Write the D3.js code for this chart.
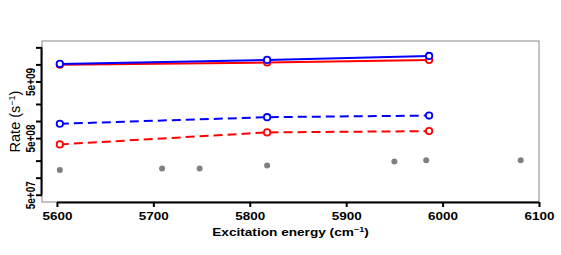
<!DOCTYPE html>
<html>
<head>
<meta charset="utf-8">
<script src="https://cdn.jsdelivr.net/npm/d3@7"></script>
<style>
  body { margin: 0; background: #fff; }
  text { font-family: "Liberation Sans", Arial, sans-serif; }
</style>
</head>
<body>
<script>
// main series
let energies = [5603, 5818, 5986];
let blueSolid = [1.02e10, 1.2e10, 1.41e10];
let redSolid = [9.9e9, 1.08e10, 1.2e10];
let blueDashed = [8.95e8, 1.17e9, 1.25e9];
let redDashed = [3.87e8, 6.3e8, 6.64e8];

// gray points
let grayEnergies = [5603, 5709, 5748, 5818, 5950, 5983, 6081];
let grayRates = [1.36e8, 1.45e8, 1.45e8, 1.64e8, 1.93e8, 2.03e8, 2.03e8];

let xTicks = [5600, 5700, 5800, 5900, 6000, 6100];
let yTicks = [5e7, 1e8, 2e8, 5e8, 1e9, 2e9, 5e9, 1e10, 2e10];
let yLabels = ["5e+07", "5e+08", "5e+09"];

let W = 561, H = 255;
let margin = { top: 41, right: 22, bottom: 53, left: 42 };
let width = W - margin.left - margin.right,
    height = H - margin.top - margin.bottom;

let svg = d3.select("body").append("svg")
  .attr("width", W)
  .attr("height", H)
  .append("g")
  .attr("transform", "translate(" + margin.left + "," + margin.top + ")");

let x = d3.scaleLinear().domain([5584.5, 6100]).range([0, width]);
let y = d3.scaleLog().domain([3.72e7, 2.59e10]).range([height, 0]);

// plot box
svg.append("rect")
  .attr("x", 0).attr("y", 0)
  .attr("width", width).attr("height", height)
  .attr("fill", "none")
  .attr("stroke", "#888")
  .attr("stroke-width", 1);

// x axis
let xaxis = svg.append("g")
  .attr("transform", "translate(0," + height + ")")
  .call(d3.axisBottom(x).tickValues(xTicks).tickSize(5).tickSizeOuter(0).tickFormat(d3.format("d")));
xaxis.select(".domain")
  .attr("d", "M" + x(5600) + ",0.5H" + x(6100))
  .attr("stroke", "#000").attr("stroke-width", 2);
xaxis.selectAll(".tick line").attr("stroke-width", 2);
xaxis.selectAll("text")
  .attr("y", 18).attr("dy", 0)
  .attr("transform", "scale(1.35,1)")
  .style("font-size", "10px")
  .style("font-weight", "bold")
  .attr("fill", "#000");

// y axis
let yaxis = svg.append("g")
  .call(d3.axisLeft(y).tickValues(yTicks).tickSize(6).tickSizeOuter(0)
    .tickFormat(function(d) { let s = d3.format(".0e")(d).replace("e+", "e+0"); return yLabels.indexOf(s) >= 0 ? s : ""; }));
yaxis.select(".domain")
  .attr("d", "M-0.5," + y(2e10) + "V" + y(5e7))
  .attr("stroke", "#000").attr("stroke-width", 2);
yaxis.selectAll(".tick line").attr("stroke-width", 2);
yaxis.selectAll("text")
  .attr("x", 0).attr("dy", 0)
  .attr("transform", "translate(-7,0) scale(1.25,1) rotate(-90)")
  .attr("text-anchor", "middle")
  .style("font-size", "10px")
  .style("font-weight", "bold")
  .attr("fill", "#000");

// lines
let line = d3.line()
  .x(function(d) { return x(d[0]); })
  .y(function(d) { return y(d[1]); });

let series = [
  { vals: redDashed, color: "red", dash: "9,5" },
  { vals: blueDashed, color: "blue", dash: "9,5" },
  { vals: redSolid, color: "red", dash: null },
  { vals: blueSolid, color: "blue", dash: null }
];

series.forEach(function(s) {
  let pts = energies.map(function(e, i) { return [e, s.vals[i]]; });
  svg.append("path")
    .datum(pts)
    .attr("d", line)
    .attr("fill", "none")
    .attr("stroke", s.color)
    .attr("stroke-width", 2)
    .attr("stroke-dasharray", s.dash);
  svg.selectAll(null)
    .data(pts)
    .enter().append("circle")
    .attr("cx", function(d) { return x(d[0]); })
    .attr("cy", function(d) { return y(d[1]); })
    .attr("r", 3.2)
    .attr("fill", "#fff")
    .attr("stroke", s.color)
    .attr("stroke-width", 1.8);
});

// gray points
let grayPts = grayEnergies.map(function(e, i) { return [e, grayRates[i]]; });
svg.selectAll(".gray")
  .data(grayPts)
  .enter().append("circle")
  .attr("class", "gray")
  .attr("cx", function(d) { return x(d[0]); })
  .attr("cy", function(d) { return y(d[1]); })
  .attr("r", 3)
  .attr("fill", "#808080");

// axis titles
svg.append("text")
  .attr("transform", "translate(" + (width / 2) + "," + (height + 33.5) + ") scale(1.3,1)")
  .attr("text-anchor", "middle")
  .style("font-size", "10.5px")
  .style("font-weight", "bold")
  .html("Excitation energy (cm<tspan dy='-4' font-size='7px'>\u22121</tspan><tspan dy='4'>)</tspan>");

svg.append("text")
  .attr("transform", "translate(-22," + (height / 2) + ") rotate(-90)")
  .attr("text-anchor", "middle")
  .style("font-size", "14.5px")
  .html("Rate (s<tspan dy='-5' font-size='9px'>\u22121</tspan><tspan dy='5'>)</tspan>");
</script>
</body>
</html>
